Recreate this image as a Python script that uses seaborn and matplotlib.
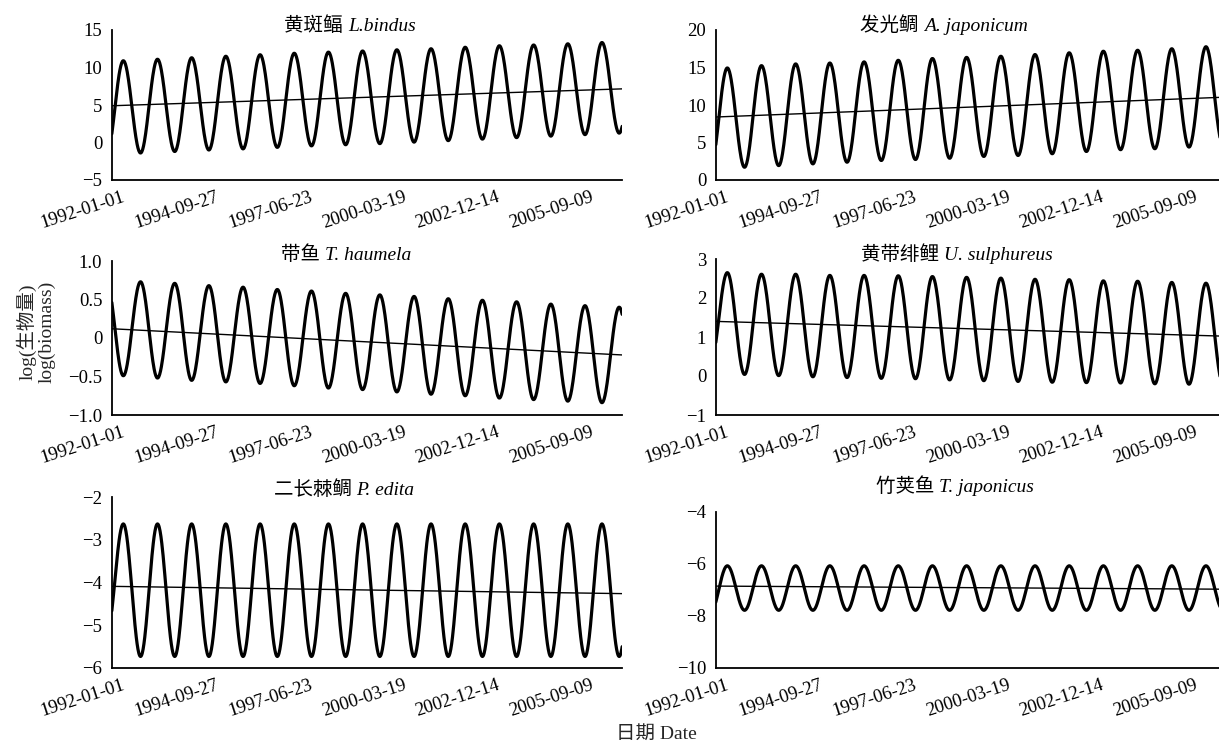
import numpy as np
import pandas as pd
import matplotlib
matplotlib.use("Agg")
import matplotlib.pyplot as plt
import matplotlib.transforms as mtransforms
import seaborn as sns
from matplotlib.offsetbox import TextArea, HPacker, AnnotationBbox

# dates of the seasonal highs / lows
spring_dates = [f"{y}-05-01" for y in range(1992, 2008)]
autumn_dates = [f"{y}-11-01" for y in range(1991, 2007)]
trend_dates = ["1992-01-01", "2006-12-01"]
tick_dates = ["1992-01-01", "1994-09-27", "1997-06-23",
              "2000-03-19", "2002-12-14", "2005-09-09"]

# L. bindus
bindus_spring = [10.9, 11.1, 11.3, 11.5, 11.7, 11.9, 12.05, 12.2,
                 12.36, 12.5, 12.7, 12.9, 13.0, 13.16, 13.33, 13.5]
bindus_autumn = [-1.9, -1.4, -1.2, -1.0, -0.85, -0.65, -0.45, -0.3,
                 -0.15, 0.05, 0.25, 0.45, 0.65, 0.85, 1.05, 1.25]
bindus_trend = [4.9, 7.15]

# A. japonicum
japonicum_spring = [14.94, 15.25, 15.48, 15.6, 15.75, 15.96, 16.2, 16.35,
                    16.5, 16.73, 16.96, 17.17, 17.3, 17.5, 17.77, 17.9]
japonicum_autumn = [1.5, 1.7, 1.92, 2.15, 2.37, 2.6, 2.73, 2.9,
                    3.14, 3.27, 3.5, 3.8, 4.04, 4.17, 4.39, 4.6]
japonicum_trend = [8.4, 11.05]

# T. haumela (highs in autumn, lows in spring)
haumela_spring = [-0.49, -0.52, -0.55, -0.57, -0.59, -0.62, -0.65, -0.67,
                  -0.70, -0.73, -0.75, -0.78, -0.80, -0.82, -0.84, -0.86]
haumela_autumn = [0.76, 0.73, 0.71, 0.68, 0.66, 0.63, 0.61, 0.58,
                  0.56, 0.54, 0.51, 0.49, 0.47, 0.44, 0.42, 0.40]
haumela_trend = [0.12, -0.22]

# U. sulphureus
sulphureus_spring = [2.65, 2.61, 2.61, 2.58, 2.58, 2.57, 2.55, 2.53,
                     2.51, 2.48, 2.47, 2.44, 2.43, 2.40, 2.38, 2.36]
sulphureus_autumn = [0.3, 0.04, 0.01, -0.02, -0.04, -0.06, -0.07, -0.10,
                     -0.12, -0.14, -0.16, -0.17, -0.18, -0.20, -0.21, -0.22]
sulphureus_trend = [1.4, 1.02]

# P. edita
edita_spring = [-2.63, -2.63, -2.63, -2.63, -2.63, -2.63, -2.63, -2.63,
                -2.63, -2.63, -2.63, -2.63, -2.63, -2.63, -2.63, -2.63]
edita_autumn = [-5.3, -5.73, -5.73, -5.73, -5.73, -5.73, -5.73, -5.73,
                -5.73, -5.73, -5.73, -5.73, -5.73, -5.73, -5.73, -5.73]
edita_trend = [-4.09, -4.26]

# T. japonicus
tjap_spring = [-6.07, -6.07, -6.07, -6.07, -6.07, -6.07, -6.07, -6.07,
               -6.07, -6.07, -6.07, -6.07, -6.07, -6.07, -6.07, -6.07]
tjap_autumn = [-7.9, -7.78, -7.78, -7.78, -7.78, -7.78, -7.78, -7.78,
               -7.78, -7.78, -7.78, -7.78, -7.78, -7.78, -7.78, -7.78]
tjap_trend = [-6.85, -6.97]

titles = [("黄斑鲾", "L.bindus"), ("发光鲷", "A. japonicum"),
          ("带鱼", "T. haumela"), ("黄带绯鲤", "U. sulphureus"),
          ("二长棘鲷", "P. edita"), ("竹荚鱼", "T. japonicus")]


def wave_frame(spring, autumn):
    # join the highs and lows with half-cosine arcs
    pts = pd.DataFrame({"date": pd.to_datetime(autumn_dates + spring_dates),
                        "value": autumn + spring}).sort_values("date")
    d = pts["date"].values.astype("datetime64[s]").astype(float)
    v = pts["value"].values
    s = np.linspace(0, 1, 40, endpoint=False)
    xs, ys = [], []
    for i in range(len(d) - 1):
        xs.append(d[i] + (d[i + 1] - d[i]) * s)
        ys.append(v[i] + (v[i + 1] - v[i]) * (1 - np.cos(np.pi * s)) / 2)
    return pd.DataFrame({"date": pd.to_datetime(np.concatenate(xs), unit="s"),
                         "value": np.concatenate(ys)})


sns.set_theme(style="white")
plt.rcParams["font.family"] = ["Liberation Serif", "Noto Sans CJK SC"]
plt.rcParams["axes.unicode_minus"] = True

W, H = 1219, 743
fig = plt.figure(figsize=(W / 100, H / 100), dpi=100)
fig.patch.set_facecolor("white")

# (left, top, width, height) in pixels, ylim, yticks, title centre (px)
panels = [
    dict(rect=(112, 30, 510, 150), sp=bindus_spring, au=bindus_autumn, tr=bindus_trend,
         ylim=(-5, 15), yt=[-5, 0, 5, 10, 15], tx=350, ty=26),
    dict(rect=(716, 30, 510, 150), sp=japonicum_spring, au=japonicum_autumn, tr=japonicum_trend,
         ylim=(0, 20), yt=[0, 5, 10, 15, 20], tx=944, ty=26),
    dict(rect=(112, 261, 510, 154), sp=haumela_spring, au=haumela_autumn, tr=haumela_trend,
         ylim=(-1, 1), yt=[-1, -0.5, 0, 0.5, 1], tx=346, ty=255,
         yl=["\u22121.0", "\u22120.5", "0", "0.5", "1.0"]),
    dict(rect=(716, 259, 510, 156), sp=sulphureus_spring, au=sulphureus_autumn, tr=sulphureus_trend,
         ylim=(-1, 3), yt=[-1, 0, 1, 2, 3], tx=957, ty=255),
    dict(rect=(112, 497, 510, 171), sp=edita_spring, au=edita_autumn, tr=edita_trend,
         ylim=(-6, -2), yt=[-6, -5, -4, -3, -2], tx=344, ty=490),
    dict(rect=(716, 512, 510, 156), sp=tjap_spring, au=tjap_autumn, tr=tjap_trend,
         ylim=(-10, -4), yt=[-10, -8, -6, -4], tx=955, ty=487),
]

fs_tick = 13.5
fs_title = 14
for p, (cn, latin) in zip(panels, titles):
    l, t, w, h = p["rect"]
    ax = fig.add_axes([l / W, 1 - (t + h) / H, w / W, h / H])
    ax.set_facecolor("none")
    df = wave_frame(p["sp"], p["au"])
    sns.lineplot(data=df, x="date", y="value", ax=ax, color="black", lw=2.3,
                 estimator=None, sort=False)
    sns.lineplot(x=pd.to_datetime(trend_dates), y=p["tr"], ax=ax, color="black", lw=1.0)
    ax.set_xlim(pd.Timestamp("1992-01-01"), pd.Timestamp("2006-12-01"))
    ax.set_ylim(*p["ylim"])
    ax.set_yticks(p["yt"])
    if "yl" in p:
        ax.set_yticklabels(p["yl"])
    ax.set_xticks(pd.to_datetime(tick_dates))
    ax.set_xticklabels(tick_dates, rotation=18, ha="right", rotation_mode="anchor")
    ax.set_xlabel("")
    ax.set_ylabel("")
    sns.despine(ax=ax)
    for side in ("left", "bottom"):
        ax.spines[side].set_linewidth(1.3)
        ax.spines[side].set_color("black")
    ax.tick_params(direction="in", length=6, width=1.1, colors="black",
                   labelsize=fs_tick)
    ax.tick_params(axis="y", pad=7)
    ax.tick_params(axis="x", pad=6)
    shift = mtransforms.ScaledTranslation(0.10, 0, fig.dpi_scale_trans)
    for lab in ax.get_xticklabels():
        lab.set_transform(lab.get_transform() + shift)

    box = HPacker(children=[TextArea(cn + " ", textprops=dict(fontsize=fs_title, color="black")),
                            TextArea(latin, textprops=dict(fontsize=fs_title, style="italic",
                                                           color="black"))],
                  align="baseline", pad=0, sep=0)
    ab = AnnotationBbox(box, (p["tx"] / W, 1 - p["ty"] / H),
                        xycoords="figure fraction", frameon=False,
                        box_alignment=(0.5, 0.5))
    fig.add_artist(ab)

fig.text(36 / W, 1 - 332 / H, "log(生物量)\nlog(biomass)", rotation=90,
         ha="center", va="center", fontsize=fs_title, linespacing=1.1)
fig.text(656 / W, 1 - 734 / H, "日期 Date", ha="center", va="center", fontsize=fs_title)

fig.savefig("out.png", dpi=100, facecolor="white")
